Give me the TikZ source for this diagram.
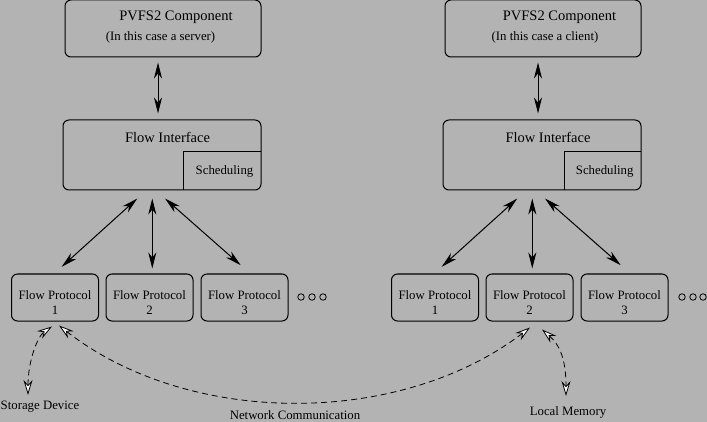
\documentclass[tikz,border=0pt]{standalone}
\usepackage{fontspec}
\setmainfont{Liberation Serif}
\usetikzlibrary{arrows.meta}
\definecolor{bg}{RGB}{179,179,179}
\begin{document}
\begin{tikzpicture}[x=1pt,y=-1pt,
  box/.style={draw, rounded corners=6pt, line width=1pt, inner sep=0pt},
  plain/.style={inner sep=0pt, minimum width=77pt, minimum height=38pt},
  big/.style={font=\fontsize{14.5}{17}\selectfont, inner sep=0pt},
  small/.style={font=\fontsize{12.8}{15}\selectfont, inner sep=0pt, align=center},
  dot/.style={draw, circle, line width=0.8pt, inner sep=0pt, minimum size=6.5pt},
  dbl/.style={line width=1pt, {Stealth[length=16pt,width=8pt,inset=5pt]}-{Stealth[length=16pt,width=8pt,inset=5pt]}},
  dsh/.style={line width=0.8pt, dash pattern=on 6pt off 4pt, {Stealth[length=15pt,width=9pt,inset=5pt,fill=white]}-{Stealth[length=15pt,width=9pt,inset=5pt,fill=white]}}
]
\fill[bg] (0,0) rectangle (707,422);
\useasboundingbox (0,0) rectangle (707,422);

% ---------- left group ----------
\node[box, minimum width=196pt, minimum height=57pt] (pv1) at (163,28.5) {};
\node[big] (pvt1) at (176,17) {PVFS2 Component};
\node[small] (pvs1) at (160.5,37) {(In this case a server)};

\node[box, minimum width=198pt, minimum height=70pt] (fi1) at (162,155) {};
\node[big] (fit1) at (167.5,137) {Flow Interface};
\node[plain, minimum width=77pt] (sc1) at (222.5,171) {};
\node[small] (sct1) at (224.5,171) {Scheduling};
\draw[line width=1pt] (sc1.south west) -- (sc1.north west) -- (sc1.north east);

\node[box, minimum width=87pt, minimum height=47pt] (fp11) at (55,297.5) {};
\node[box, minimum width=87pt, minimum height=47pt] (fp12) at (149.5,297.5) {};
\node[box, minimum width=87pt, minimum height=47pt] (fp13) at (244.5,297.5) {};
\node[small] (fpt11) at (55,302.5) {Flow Protocol\\1};
\node[small] (fpt12) at (149.5,302.5) {Flow Protocol\\2};
\node[small] (fpt13) at (244.5,302.5) {Flow Protocol\\3};
\node[dot] (d11) at (301,297) {};
\node[dot] (d12) at (312,297) {};
\node[dot] (d13) at (323,297) {};

\draw[dbl] ([xshift=-5pt,yshift=-5pt]pv1.south) -- ([xshift=-4pt,yshift=6pt]fi1.north);
\draw[dbl] ([xshift=-24.7pt,yshift=-8pt]fi1.south) -- ([xshift=6.7pt,yshift=6.7pt]fp11.north);
\draw[dbl] ([xshift=-9.7pt,yshift=-8pt]fi1.south) -- ([xshift=2.8pt,yshift=5pt]fp12.north);
\draw[dbl] ([xshift=3pt,yshift=-8pt]fi1.south) -- ([xshift=-3.8pt,yshift=8.3pt]fp13.north);

% ---------- right group ----------
\node[box, minimum width=196pt, minimum height=57pt] (pv2) at (543,28.5) {};
\node[big] (pvt2) at (559.5,17) {PVFS2 Component};
\node[small] (pvs2) at (545,37) {(In this case a client)};

\node[box, minimum width=198pt, minimum height=70pt] (fi2) at (542,155) {};
\node[big] (fit2) at (548,137) {Flow Interface};
\node[plain, minimum width=76pt] (sc2) at (603,171) {};
\node[small] (sct2) at (604.7,171) {Scheduling};
\draw[line width=1pt] (sc2.south west) -- (sc2.north west) -- (sc2.north east);

\node[box, minimum width=87pt, minimum height=47pt] (fp21) at (435,297.5) {};
\node[box, minimum width=87pt, minimum height=47pt] (fp22) at (529.5,297.5) {};
\node[box, minimum width=87pt, minimum height=47pt] (fp23) at (624.5,297.5) {};
\node[small] (fpt21) at (435,302.5) {Flow Protocol\\1};
\node[small] (fpt22) at (529.5,302.5) {Flow Protocol\\2};
\node[small] (fpt23) at (624.5,302.5) {Flow Protocol\\3};
\node[dot] (d21) at (682,297) {};
\node[dot] (d22) at (693,297) {};
\node[dot] (d23) at (703,297) {};

\draw[dbl] ([xshift=-5pt,yshift=-5pt]pv2.south) -- ([xshift=-4pt,yshift=6pt]fi2.north);
\draw[dbl] ([xshift=-24.7pt,yshift=-8pt]fi2.south) -- ([xshift=6.7pt,yshift=6.7pt]fp21.north);
\draw[dbl] ([xshift=-9.7pt,yshift=-8pt]fi2.south) -- ([xshift=2.8pt,yshift=5pt]fp22.north);
\draw[dbl] ([xshift=3pt,yshift=-8pt]fi2.south) -- ([xshift=-3.8pt,yshift=8.3pt]fp23.north);

% ---------- bottom labels and dashed links ----------
\node[small] (sd) at (40,407) {Storage Device};
\node[small] (nc) at (295,415.5) {Network Communication};
\node[small] (lm) at (568,412) {Local Memory};
\coordinate (sdtip) at (28,395);
\coordinate (lmtip) at (566,396);

\draw[dsh] (sdtip) .. controls (28,360) and (38,336) .. ([xshift=-3pt,yshift=-5pt]fp11.south);
\draw[dsh] ([xshift=4pt,yshift=-4pt]fp11.south) .. controls (189,427) and (400,427) .. ([xshift=0.5pt,yshift=-6pt]fp22.south);
\draw[dsh] ([xshift=12.5pt,yshift=-8pt]fp22.south) .. controls (560,345) and (566,360) .. (lmtip);
\end{tikzpicture}
\end{document}
